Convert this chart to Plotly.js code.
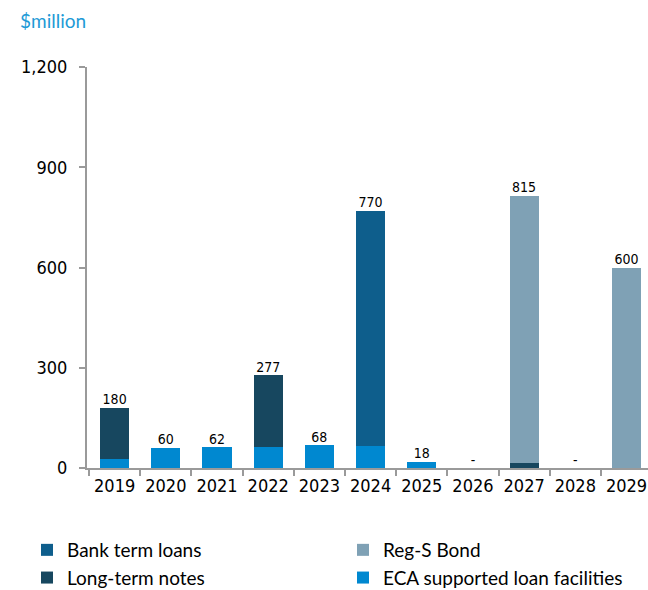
<!DOCTYPE html>
<html>
<head>
<meta charset="utf-8">
<script src="https://cdn.plot.ly/plotly-3.0.1.min.js"></script>
<style>html,body{margin:0;padding:0;background:#fff;}#chart{width:648px;height:590px;}</style>
</head>
<body>
<div id="chart"></div>
<script>
const years = ["2019","2020","2021","2022","2023","2024","2025","2026","2027","2028","2029"];
const ecaLoans   = [27, 60, 62, 63, 68, 66, 18, 0, 0, 0, 0];
const ltNotes    = [153, 0, 0, 214, 0, 0, 0, 0, 15, 0, 0];
const bankLoans  = [0, 0, 0, 0, 0, 704, 0, 0, 0, 0, 0];
const regSBond   = [0, 0, 0, 0, 0, 0, 0, 0, 800, 0, 600];
const totalLabels = ["180","60","62","277","68","770","18","-","815","-","600"];

const totals = years.map((_, i) => ecaLoans[i] + ltNotes[i] + bankLoans[i] + regSBond[i]);

const colors = {
  bank: "#0E5E8C",
  lt: "#17475F",
  regs: "#7FA1B5",
  eca: "#0088D0"
};

function barTrace(name, y, color, rank, legend) {
  return {
    type: "bar", name: name, x: years, y: y,
    marker: {color: color, line: {width: 0}},
    legendrank: rank, legend: legend, hoverinfo: "skip"
  };
}

const data = [
  barTrace("ECA supported loan facilities", ecaLoans, colors.eca, 2, "legend2"),
  barTrace("Long-term notes", ltNotes, colors.lt, 2, "legend"),
  barTrace("Bank term loans", bankLoans, colors.bank, 1, "legend"),
  barTrace("Reg-S Bond", regSBond, colors.regs, 1, "legend2"),
  {
    type: "scatter", mode: "text", x: years, y: totals, text: totalLabels,
    textposition: "top center", showlegend: false, hoverinfo: "skip",
    cliponaxis: false,
    textfont: {family: "DejaVu Sans Condensed, DejaVu Sans", size: 14, color: "#000"}
  }
];

const legendFont = {family: "Lato, Open Sans, sans-serif", size: 19, color: "#000"};

const layout = {
  width: 648, height: 590,
  margin: {l: 87, r: 0, t: 67, b: 122, autoexpand: false},
  paper_bgcolor: "#fff", plot_bgcolor: "#fff",
  barmode: "stack", bargap: 0.43,
  showlegend: true,
  font: {family: "DejaVu Sans Condensed, DejaVu Sans", color: "#000"},
  xaxis: {
    type: "category", range: [-0.54, 10.42], fixedrange: true, automargin: false,
    showline: true, linecolor: "#9a9a9a", linewidth: 2,
    ticks: "outside", tickson: "boundaries", ticklen: 6, tickcolor: "#9a9a9a", tickwidth: 2,
    tickfont: {size: 18}, tickangle: 0, showgrid: false, zeroline: false
  },
  yaxis: {
    range: [0, 1200], tickvals: [0, 300, 600, 900, 1200], automargin: false,
    ticktext: ["0", "300", "600", "900", "1,200"],
    showline: true, linecolor: "#9a9a9a", linewidth: 2,
    ticks: "outside", ticklen: 6, tickcolor: "#9a9a9a", tickwidth: 2,
    ticklabelstandoff: 8,
    tickfont: {size: 18}, showgrid: false, zeroline: false, fixedrange: true
  },
  legend: {
    orientation: "v", xref: "container", yref: "container",
    x: 27 / 648, y: 0.1, xanchor: "left", yanchor: "top",
    font: legendFont, traceorder: "normal"
  },
  legend2: {
    orientation: "v", xref: "container", yref: "container",
    x: 343 / 648, y: 0.1, xanchor: "left", yanchor: "top",
    font: legendFont, traceorder: "normal"
  },
  annotations: [{
    text: "$million", xref: "paper", yref: "paper",
    x: (18 - 87) / 561, y: 1 + (67 - 7) / 401,
    xanchor: "left", yanchor: "top", showarrow: false,
    font: {family: "Lato, Open Sans, sans-serif", size: 19, color: "#1E9AD6"}
  }]
};

Plotly.newPlot("chart", data, layout, {displayModeBar: false, staticPlot: true});
</script>
</body>
</html>
